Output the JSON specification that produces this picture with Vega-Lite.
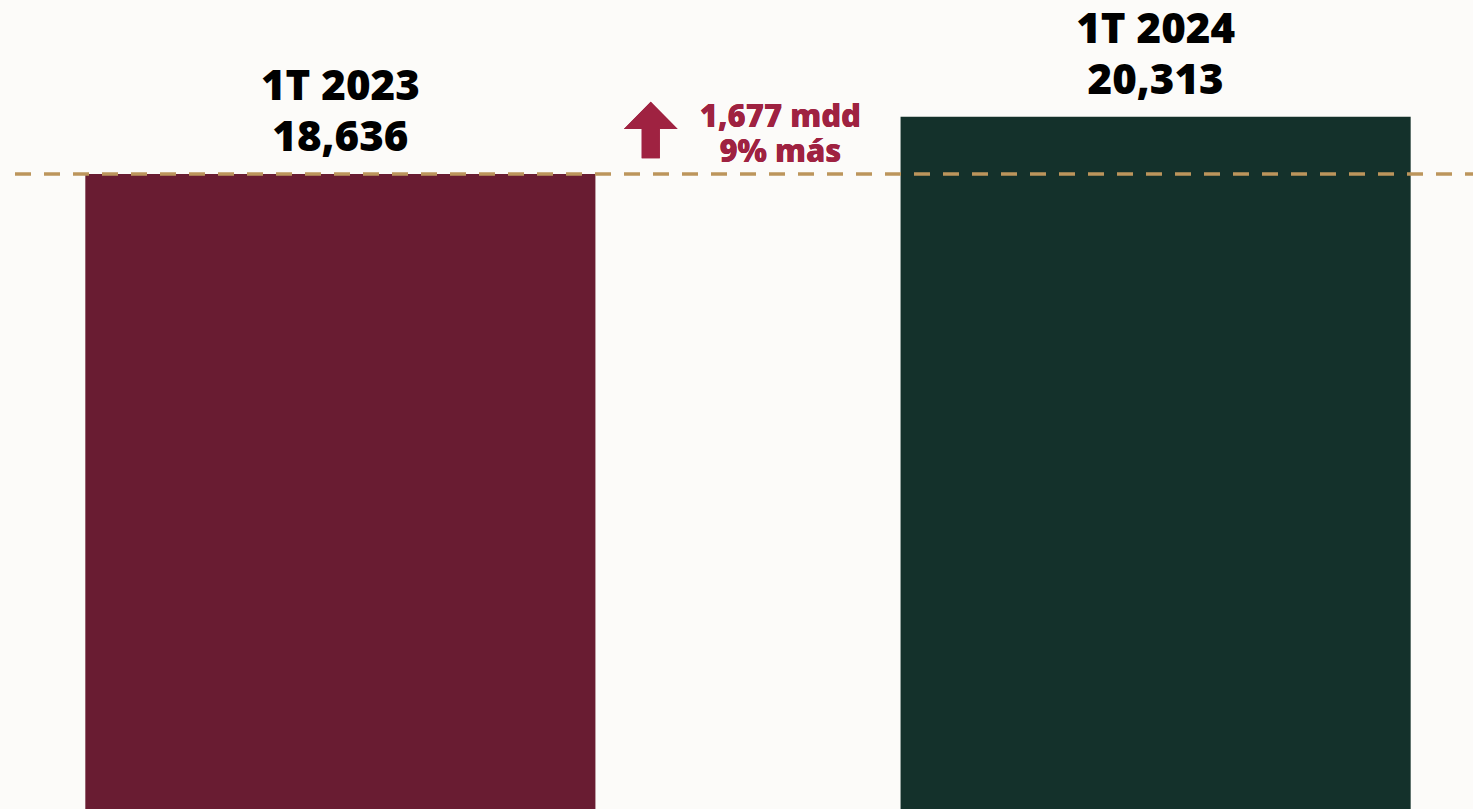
{
  "$schema": "https://vega.github.io/schema/vega-lite/v6.json",
  "width": 1473,
  "height": 809,
  "autosize": {"type": "fit", "contains": "padding"},
  "padding": 0,
  "background": "#fcfbf9",
  "config": {"view": {"stroke": null}},
  "data": {"values": [
    {"periodo": "1T 2023", "valor": 18636, "valor_txt": "18,636"},
    {"periodo": "1T 2024", "valor": 20313, "valor_txt": "20,313"}
  ]},
  "encoding": {
    "x": {"field": "periodo", "type": "nominal", "axis": null,
          "scale": {"domain": ["1T 2023", "1T 2024"], "paddingInner": 0.3743, "paddingOuter": 0.0881, "align": 0.58}},
    "y": {"field": "valor", "type": "quantitative", "axis": null,
          "scale": {"domain": [0, 23743], "nice": false, "zero": true}}
  },
  "layer": [
    {"mark": {"type": "bar"},
     "encoding": {"color": {"field": "periodo", "type": "nominal", "legend": null,
       "scale": {"domain": ["1T 2023", "1T 2024"], "range": ["#691c32", "#14312b"]}}}},
    {"mark": {"type": "text", "font": "Open Sans", "fontWeight": 800, "fontSize": 42, "color": "#000000", "baseline": "alphabetic", "dy": -74},
     "encoding": {"text": {"field": "periodo"}}},
    {"mark": {"type": "text", "font": "Open Sans", "fontWeight": 800, "fontSize": 42, "color": "#000000", "baseline": "alphabetic", "dy": -23},
     "encoding": {"text": {"field": "valor_txt"}}},
    {"mark": {"type": "rule", "color": "#bc955c", "strokeWidth": 3, "strokeDash": [16, 13], "strokeDashOffset": 16},
     "encoding": {"x": {"value": 0}, "x2": {"value": 1473}, "y": {"datum": 18636}}},
    {"mark": {"type": "point", "filled": true, "opacity": 1, "color": "#9f2241", "size": 3200,
              "shape": "M0,-1 L0.95,-0.03 L0.32,-0.03 L0.32,1 L-0.32,1 L-0.32,-0.03 L-0.95,-0.03 Z"},
     "encoding": {"x": {"datum": "1T 2023", "bandPosition": 1.1085}, "y": {"datum": 19929}}},
    {"mark": {"type": "text", "font": "Open Sans", "fontWeight": 800, "fontSize": 31, "color": "#9f2241", "baseline": "alphabetic"},
     "encoding": {"x": {"datum": "1T 2023", "bandPosition": 1.3627}, "y": {"datum": 20024}, "text": {"value": "1,677 mdd"}}},
    {"mark": {"type": "text", "font": "Open Sans", "fontWeight": 800, "fontSize": 31, "color": "#9f2241", "baseline": "alphabetic"},
     "encoding": {"x": {"datum": "1T 2023", "bandPosition": 1.3627}, "y": {"datum": 18997}, "text": {"value": "9% más"}}}
  ]
}
